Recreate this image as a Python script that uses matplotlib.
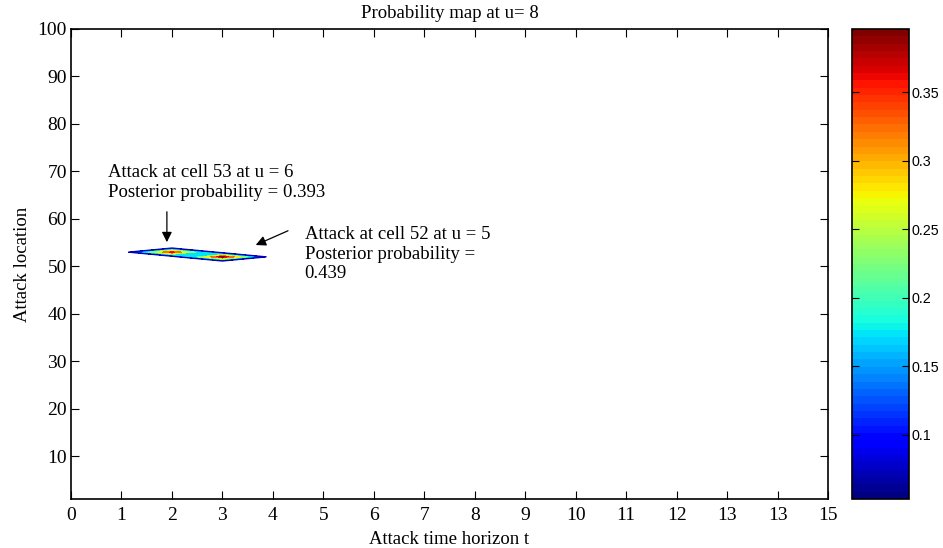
import numpy as np
import matplotlib
matplotlib.use('Agg')
import matplotlib.pyplot as plt
from matplotlib.colors import Normalize
from matplotlib.cm import ScalarMappable

# Probability grid: attack time horizon t (columns) x attack location (rows)
horizon = np.arange(0, 16)
locations = np.arange(1, 101)
# non-zero cells of the map: (t, cell, probability)
hot_t = [2, 3]
hot_cell = [53, 52]
hot_prob = [0.372, 0.396]

xtick_labels = ['0', '1', '2', '3', '4', '5', '6', '7', '8', '9', '10',
                '11', '12', '13', '13', '15']
ytick_vals = [10, 20, 30, 40, 50, 60, 70, 80, 90, 100]
cbar_ticks = [0.1, 0.15, 0.2, 0.25, 0.3, 0.35]
cmin, cmax = 0.053, 0.396

Z = np.zeros((len(locations), len(horizon)))
for t, c, p in zip(hot_t, hot_cell, hot_prob):
    Z[c - 1, t] = p

serif = 'Liberation Serif'
sans = 'Liberation Sans'
fs = 13.5

fig = plt.figure(figsize=(9.43, 5.48), dpi=100)
ax = fig.add_axes([71/943, 49/548, 757/943, 470/548])
cax = fig.add_axes([852/943, 49/548, 57/943, 470/548])

cmap = plt.get_cmap('jet', 64)
norm = Normalize(vmin=cmin, vmax=cmax)
levels = [cmin, 0.1, 0.15, 0.2, 0.25, 0.3, 0.35, 0.375, cmax]
ax.contourf(horizon, locations, Z, levels=levels, cmap=cmap, norm=norm)
ax.contour(horizon, locations, Z, levels=[cmin], colors=[cmap(0.05)], linewidths=1.0)

ax.set_xlim(0, 15)
ax.set_ylim(1, 100)
ax.set_xticks(horizon)
ax.set_xticklabels(xtick_labels, fontfamily=serif, fontsize=14)
ax.set_yticks(ytick_vals)
ax.set_yticklabels([str(v) for v in ytick_vals], fontfamily=serif, fontsize=14)
ax.tick_params(direction='in', top=True, right=True, length=6, width=0.8)
ax.tick_params(axis='x', pad=5.5)
ax.tick_params(axis='y', pad=3)
for s in ax.spines.values():
    s.set_linewidth(1.2)

ax.set_title('Probability map at u= 8', fontfamily=serif, fontsize=fs, pad=8)
ax.set_xlabel('Attack time horizon t', fontfamily=serif, fontsize=fs, labelpad=5)
ax.set_ylabel('Attack location', fontfamily=serif, fontsize=fs, labelpad=5)

# annotations for the two detected attacks (baseline = last line)
arrow = dict(arrowstyle='-|>', color='black', lw=0.9,
             mutation_scale=15, shrinkA=0, shrinkB=0)
ax.annotate('', xy=(1.90, 55.1), xytext=(1.90, 61.5), arrowprops=arrow)
ax.text(0.73, 64.7, 'Attack at cell 53 at u = 6\nPosterior probability = 0.393',
        fontfamily=serif, fontsize=fs, va='baseline', ha='left', linespacing=1.2)
ax.annotate('', xy=(3.66, 54.5), xytext=(4.30, 57.5), arrowprops=arrow)
ax.text(4.63, 47.5, 'Attack at cell 52 at u = 5\nPosterior probability =\n0.439',
        fontfamily=serif, fontsize=fs, va='baseline', ha='left', linespacing=1.2)

sm = ScalarMappable(norm=norm, cmap=cmap)
cb = fig.colorbar(sm, cax=cax, ticks=cbar_ticks)
cb.ax.set_yticklabels([f'{v:g}' for v in cbar_ticks], fontfamily=sans, fontsize=10.3)
cb.ax.tick_params(direction='in', left=True, right=True, length=5, width=0.8, pad=2)
cb.outline.set_linewidth(1.2)

fig.savefig('out.png', dpi=100)
